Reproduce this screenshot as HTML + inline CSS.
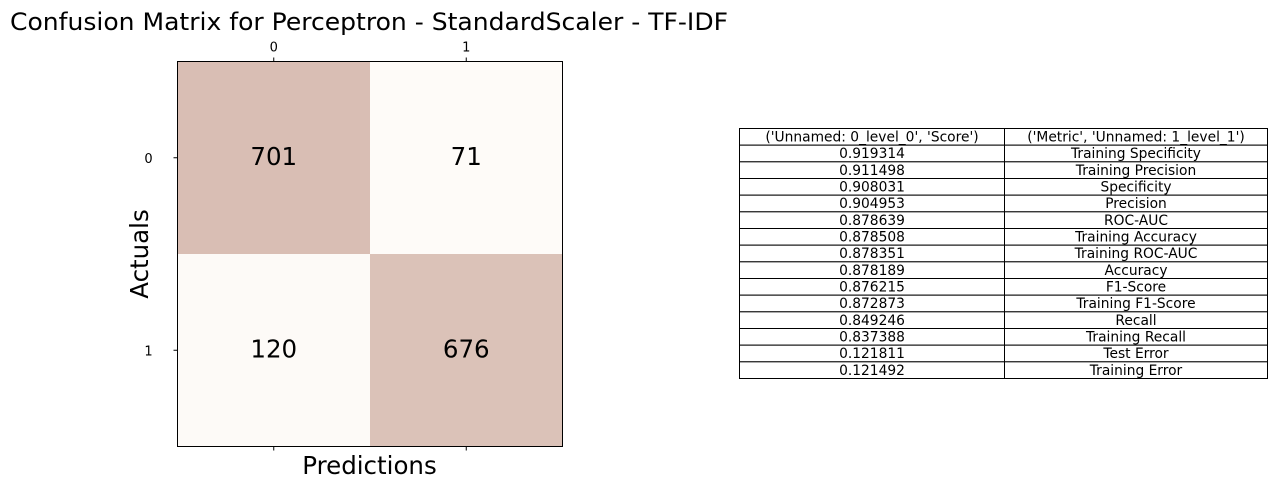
<!DOCTYPE html>
<html><head><meta charset="utf-8"><style>
body{margin:0;background:#fff;width:1277px;height:490px;overflow:hidden;font-family:"DejaVu Sans","Liberation Sans",sans-serif}
</style></head><body>
<svg width="1277" height="490" font-family="DejaVu Sans, Liberation Sans, sans-serif">
<text x="10" y="30" font-size="24" textLength="718" lengthAdjust="spacingAndGlyphs">Confusion Matrix for Perceptron - StandardScaler - TF-IDF</text>
<g id="heat"></g>
<rect x="177.5" y="61.5" width="385" height="385" fill="none" stroke="#000"/>
<g id="ticks"></g>
<text x="369.5" y="474" font-size="24.5" text-anchor="middle">Predictions</text>
<text transform="translate(148,254) rotate(-90)" font-size="24.5" text-anchor="middle">Actuals</text>
<g id="table"></g>
</svg>
<script>
const classLabels=["0","1"];
const matrixValues=[[701,71],[120,676]];
const scores=["0.919314","0.911498","0.908031","0.904953","0.878639","0.878508","0.878351","0.878189","0.876215","0.872873","0.849246","0.837388","0.121811","0.121492"];
const metrics=["Training Specificity","Training Precision","Specificity","Precision","ROC-AUC","Training Accuracy","Training ROC-AUC","Accuracy","F1-Score","Training F1-Score","Recall","Training Recall","Test Error","Training Error"];
const headers=["('Unnamed: 0_level_0', 'Score')","('Metric', 'Unnamed: 1_level_1')"];
const NS="http://www.w3.org/2000/svg";
function mk(t,a,p){const e=document.createElementNS(NS,t);for(const k in a)e.setAttribute(k,a[k]);p.appendChild(e);return e;}
const x0=177.5,y0=61.5,size=385,n=classLabels.length,cw=size/n;
const flat=matrixValues.flat(),mn=Math.min(...flat),mx=Math.max(...flat);
function col(v){const t=(v-mn)/(mx-mn);const a=[254,251,248],b=[217,190,180];const s=Math.pow(t,1.6);return `rgb(${a.map((c,i)=>Math.round(c+(b[i]-c)*s)).join(',')})`;}
const heat=document.getElementById('heat'),ticks=document.getElementById('ticks');
matrixValues.forEach((row,i)=>row.forEach((v,j)=>{
 const r=mk('rect',{x:x0+j*cw,y:y0+i*cw,width:cw,height:cw,fill:col(v)},heat);
 
 
 const t=mk('text',{x:x0+j*cw+cw/2,y:y0+i*cw+cw/2+7,'font-size':24.5,'text-anchor':'middle'},heat);t.textContent=v;
 
 
}));
classLabels.forEach((l,k)=>{
 const c=x0+k*cw+cw/2;
 mk('line',{x1:c,x2:c,y1:y0,y2:y0-4,stroke:'#000'},ticks);
 mk('line',{x1:c,x2:c,y1:y0+size,y2:y0+size+4,stroke:'#000'},ticks);
 const t=mk('text',{x:c,y:y0-10,'font-size':13,'text-anchor':'middle'},ticks);t.textContent=l;
 
 
 const yc=y0+k*cw+cw/2;
 mk('line',{x1:x0,x2:x0-4,y1:yc,y2:yc,stroke:'#000'},ticks);
 const u=mk('text',{x:x0-29,y:yc+5,'font-size':13,'text-anchor':'middle'},ticks);u.textContent=l;
 
 
});
const tb=document.getElementById('table');
const tx=739.5,tm=1004.5,tr=1267.5,ty=128.5,rh=250/15;
const rows=[headers].concat(scores.map((s,i)=>[s,metrics[i]]));
rows.forEach((r,i)=>{
 const y=ty+i*rh;
 const row=mk('g',{},tb);
 
 
 mk('rect',{x:tx,y:y,width:tm-tx,height:rh,fill:'#fff',stroke:'#000'},row);
 mk('rect',{x:tm,y:y,width:tr-tm,height:rh,fill:'#fff',stroke:'#000'},row);
 const a=mk('text',{x:(tx+tm)/2,y:y+13,'font-size':13.8,'text-anchor':'middle'},row);a.textContent=r[0];
 const b=mk('text',{x:(tm+tr)/2,y:y+13,'font-size':13.8,'text-anchor':'middle'},row);b.textContent=r[1];
});
</script>
</body></html>
